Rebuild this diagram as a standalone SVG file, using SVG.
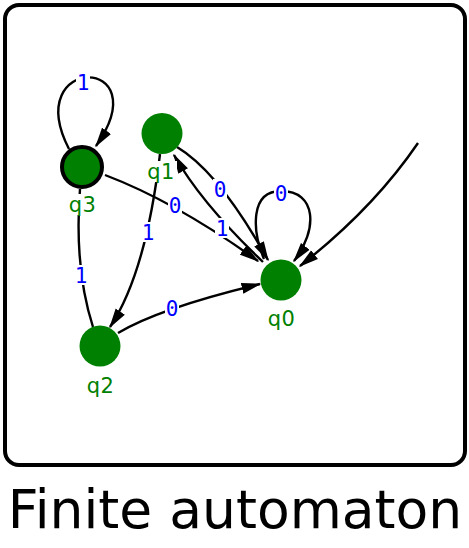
<svg xmlns="http://www.w3.org/2000/svg" width="469" height="548" viewBox="0 0 469 548">
<style>
.edge{fill:none;stroke:#000;stroke-width:2.4}
.arr{marker-end:url(#ah)}
.node{fill:#008000}
.nl{font-family:"DejaVu Sans",sans-serif;font-size:21px;letter-spacing:0.5px;fill:#008000;text-anchor:middle}
.el{font-family:"DejaVu Sans Mono",monospace;font-size:21px;fill:#0000ff;text-anchor:middle}
.bg{fill:#fff}
</style>
<defs>
<marker id="ah" markerUnits="userSpaceOnUse" markerWidth="20" markerHeight="12" refX="18.5" refY="6" orient="auto">
<path d="M0,0.5 L20,6 L0,11.5 z" fill="#000"/>
</marker>
</defs>
<rect x="5" y="5" width="460" height="460" rx="14" ry="14" fill="#fff" stroke="#000" stroke-width="4"/>
<g id="connectors">
<path class="edge arr" d="M69,149 C20,54 160,54 96,146"/>
<path class="edge arr" d="M105,175 Q176,202 258,261"/>
<path class="edge arr" d="M177,147 Q219.5,172.5 268,260"/>
<path class="edge arr" d="M263,262 Q201.6,203.6 174,155"/>
<path class="edge arr" d="M264,259 C252,230 250,191 281,191 C317,191 318,230 294,261"/>
<path class="edge arr" d="M160,154 Q146,273 110,327"/>
<path class="edge" d="M80,189 Q74,268 93,327"/>
<path class="edge arr" d="M118,333 Q159.4,308.2 260,284"/>
<path class="edge arr" d="M418,143 Q373,209 300,266"/>
<g id="edge-labels">
<rect class="bg" x="76" y="72" width="14" height="20"/><text class="el" x="83" y="89.5">1</text>
<rect class="bg" x="168" y="195" width="14" height="20"/><text class="el" x="175" y="212.5">0</text>
<rect class="bg" x="213" y="179" width="14" height="20"/><text class="el" x="220" y="196.5">0</text>
<rect class="bg" x="215" y="218" width="14" height="20"/><text class="el" x="222" y="235.5">1</text>
<rect class="bg" x="274" y="183" width="14" height="20"/><text class="el" x="281" y="200.8">0</text>
<rect class="bg" x="141" y="222" width="14" height="20"/><text class="el" x="148" y="239.5">1</text>
<rect class="bg" x="74" y="265" width="14" height="20"/><text class="el" x="81" y="282.5">1</text>
<rect class="bg" x="165" y="298" width="14" height="20"/><text class="el" x="172" y="315.5">0</text>
</g>
</g>
<g id="q3">
<circle class="node" cx="82" cy="167" r="20" stroke="#000" stroke-width="4"/>
<rect class="bg" x="67" y="194" width="31" height="21"/>
<text class="nl" x="82.5" y="211.5">q3</text>
</g>
<g id="q1">
<circle class="node" cx="162" cy="133.5" r="20.5"/>
<rect class="bg" x="146" y="161" width="31" height="21"/>
<text class="nl" x="161" y="179">q1</text>
</g>
<g id="q0">
<circle class="node" cx="281" cy="280" r="20.5"/>
<rect class="bg" x="266" y="307" width="31" height="21"/>
<text class="nl" x="281.5" y="325.5">q0</text>
</g>
<g id="q2">
<circle class="node" cx="100" cy="346" r="20.5"/>
<rect class="bg" x="85" y="374" width="31" height="21"/>
<text class="nl" x="100.5" y="392.5">q2</text>
</g>
<text x="235" y="528" font-family="DejaVu Sans, sans-serif" font-size="53.5" text-anchor="middle" fill="#000">Finite automaton</text>
</svg>
